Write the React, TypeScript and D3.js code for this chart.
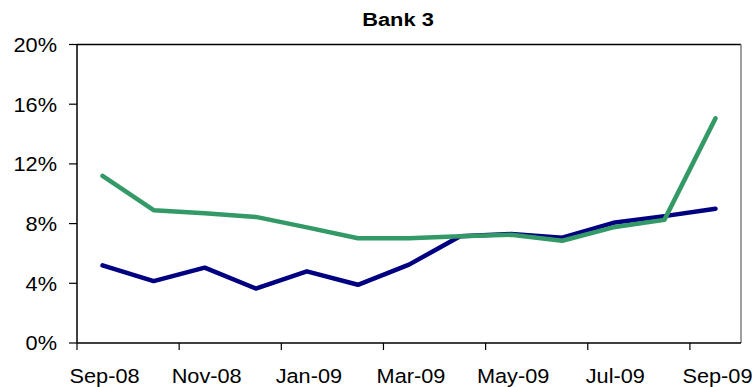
import React from "react";
import * as d3 from "d3";

const months = ["Sep-08","Oct-08","Nov-08","Dec-08","Jan-09","Feb-09","Mar-09","Apr-09","May-09","Jun-09","Jul-09","Aug-09","Sep-09"];
const seriesBlue = [5.2, 4.15, 5.05, 3.65, 4.8, 3.9, 5.25, 7.15, 7.3, 7.05, 8.05, 8.5, 9.0];
const seriesGreen = [11.2, 8.9, 8.7, 8.45, 7.75, 7.02, 7.02, 7.15, 7.25, 6.85, 7.75, 8.25, 15.05];
const yTicks = [0, 4, 8, 12, 16, 20];
const title = "Bank 3";

const W = 756, H = 387;
const M = { left: 77, right: 741, top: 44.5, bottom: 343 };

export default function App() {
  const x = d3.scaleBand<string>().domain(months).range([M.left, M.right]).paddingInner(0).paddingOuter(0);
  const y = d3.scaleLinear().domain([0, 20]).range([M.bottom, M.top]);
  const line = d3.line<number>().x((_, i) => (x(months[i]) as number) + x.bandwidth() / 2).y(d => y(d));
  const font = "'Liberation Sans', Arial, sans-serif";
  const labelIdx = months.map((_, i) => i).filter(i => i % 2 === 0);
  const tickBounds = d3.range(0, months.length + 1, 2).map(i => M.left + i * x.bandwidth()).filter(v => v < M.right - 1);
  const sx = 1.06;
  return (
    <svg width={W} height={H} style={{ position: "absolute", left: 0, top: 0, background: "#fff" }}>
      <text x={398} y={26.5} textAnchor="middle" fontFamily={font} fontWeight="bold" fontSize={19}
        transform={`translate(398,0) scale(1.15,1) translate(-398,0)`}>{title}</text>
      {/* frame */}
      <line x1={M.left} x2={M.right} y1={M.top} y2={M.top} stroke="#000" strokeWidth={1.5} />
      <line x1={M.right} x2={M.right} y1={M.top} y2={M.bottom} stroke="#808080" strokeWidth={1.5} />
      <line x1={M.left} x2={M.left} y1={M.top} y2={M.bottom} stroke="#000" strokeWidth={1.5} />
      <line x1={M.left} x2={M.right} y1={M.bottom} y2={M.bottom} stroke="#000" strokeWidth={1.5} />
      {yTicks.map(t => (
        <g key={t}>
          <line x1={M.left - 8} x2={M.left} y1={y(t)} y2={y(t)} stroke="#000" strokeWidth={1.2} />
          <text x={57} y={y(t)} dy="0.36em" textAnchor="end" fontFamily={font} fontSize={20.5}
            transform={`translate(57,0) scale(${sx},1) translate(-57,0)`}>{t}%</text>
        </g>
      ))}
      {tickBounds.map((b, i) => (
        <line key={i} x1={b} x2={b} y1={M.bottom} y2={M.bottom + 7} stroke="#000" strokeWidth={1.2} />
      ))}
      {labelIdx.map(i => {
        const cx = (x(months[i]) as number) + x.bandwidth() / 2 + 2;
        return (
          <text key={i} x={cx} y={383.5} textAnchor="middle" fontFamily={font} fontSize={20.5}
            transform={`translate(${cx},0) scale(${sx},1) translate(${-cx},0)`}>{months[i]}</text>
        );
      })}
      <path d={line(seriesBlue) || ""} fill="none" stroke="#000080" strokeWidth={4.5} strokeLinejoin="round" strokeLinecap="round" />
      <path d={line(seriesGreen) || ""} fill="none" stroke="#339966" strokeWidth={4.5} strokeLinejoin="round" strokeLinecap="round" />
    </svg>
  );
}
